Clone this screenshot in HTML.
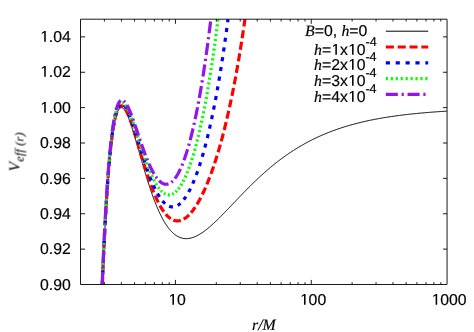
<!DOCTYPE html>
<html><head><meta charset="utf-8"><title>V_eff(r)</title><style>
html,body{margin:0;padding:0;background:#fff;}
body{width:474px;height:332px;position:relative;overflow:hidden;font-family:"Liberation Sans",sans-serif;font-size:15.8px;color:#000;text-rendering:geometricPrecision;-webkit-text-stroke:0.18px #000;}
.yl,.xl,.lg,.xt,.yt span{will-change:transform;}
.yl{position:absolute;right:403.2px;height:17px;line-height:17px;text-align:right;white-space:nowrap;}
.xl{position:absolute;top:292.2px;width:60px;text-align:center;height:17px;line-height:17px;}
.lg{position:absolute;right:106.5px;height:17px;line-height:17px;white-space:nowrap;text-align:right;}
.o{font-weight:normal;color:transparent;-webkit-text-stroke:0;position:relative;}
.o::before{content:"";position:absolute;left:0.02em;top:0.125em;width:0.5562em;height:0.688em;background:#000;clip-path:polygon(44.4% 100%,44.4% 13.4%,17.3% 29%,17.3% 15.5%,46.5% 0%,62% 0%,62% 100%);}
i{font-family:"Liberation Serif",serif;font-style:italic;}
sup{font-size:12.6px;vertical-align:baseline;position:relative;top:-8.9px;line-height:0;}
.xt{position:absolute;left:252.3px;top:316.7px;font-family:"Liberation Serif",serif;font-style:italic;white-space:nowrap;height:17px;line-height:17px;}
.yt{position:absolute;left:15.3px;top:152.0px;width:0;height:0;}
.yt span{position:absolute;white-space:nowrap;font-family:"Liberation Serif",serif;font-style:italic;transform:translate(-50%,-50%) rotate(-90deg);line-height:17px;}
.yt span{-webkit-text-stroke:0;}
.yt b{font-weight:normal;letter-spacing:0.15px;}
.yt sub{font-size:12.6px;vertical-align:baseline;position:relative;top:4px;line-height:0;}
</style></head><body>
<svg width="474" height="332" viewBox="0 0 474 332" style="position:absolute;left:0;top:0">
<g fill="none" stroke-linejoin="round">
<path d="M102.36,284.50L102.42,282.92L102.50,281.12L102.57,279.34L102.64,277.57L102.72,275.81L102.79,274.07L102.86,272.34L102.94,270.62L103.01,268.91L103.08,267.22L103.16,265.54L103.23,263.88L103.30,262.22L103.38,260.58L103.45,258.95L103.52,257.33L103.60,255.73L103.67,254.14L103.74,252.56L103.82,250.99L103.89,249.43L103.96,247.89L104.04,246.36L104.11,244.84L104.18,243.33L104.26,241.83L104.33,240.35L104.40,238.87L104.48,237.41L104.55,235.96L104.62,234.52L104.70,233.09L104.77,231.68L104.84,230.27L104.92,228.88L104.99,227.50L105.06,226.12L105.14,224.76L105.21,223.41L105.28,222.07L105.36,220.75L105.43,219.43L105.50,218.12L105.58,216.83L105.65,215.54L105.72,214.27L105.80,213.00L105.87,211.75L105.94,210.50L106.02,209.27L106.09,208.05L106.16,206.83L106.24,205.63L106.31,204.44L106.38,203.26L106.46,202.08L106.53,200.92L106.60,199.77L106.68,198.63L106.75,197.49L106.82,196.37L106.90,195.25L106.97,194.15L107.04,193.05L107.12,191.97L107.19,190.89L107.26,189.83L107.34,188.77L107.41,187.72L107.48,186.68L107.56,185.65L107.63,184.63L107.70,183.62L107.78,182.62L107.85,181.62L107.92,180.64L108.00,179.66L108.07,178.69L108.14,177.74L108.22,176.79L108.29,175.85L108.36,174.91L108.44,173.99L108.51,173.07L108.58,172.17L108.66,171.27L108.73,170.38L108.80,169.50L108.88,168.62L108.95,167.76L109.02,166.90L109.10,166.05L109.17,165.21L109.24,164.38L109.32,163.55L109.39,162.74L109.46,161.93L109.54,161.12L109.68,159.55L109.83,158.00L109.98,156.48L110.12,154.99L110.27,153.53L110.42,152.10L110.56,150.71L110.71,149.33L110.86,147.99L111.00,146.68L111.15,145.39L111.30,144.13L111.44,142.90L111.59,141.70L111.74,140.52L111.88,139.36L112.03,138.24L112.18,137.14L112.32,136.06L112.47,135.01L112.62,133.98L112.76,132.98L112.91,132.00L113.06,131.05L113.20,130.12L113.35,129.21L113.50,128.33L113.64,127.46L113.79,126.62L113.94,125.81L114.08,125.01L114.30,123.86L114.52,122.75L114.74,121.69L114.96,120.67L115.18,119.70L115.40,118.78L115.62,117.90L115.84,117.06L116.06,116.26L116.36,115.26L116.65,114.33L116.94,113.46L117.24,112.67L117.60,111.77L117.97,110.96L118.41,110.12L118.85,109.41L119.36,108.75L119.95,108.18L120.68,107.76L121.49,107.64L122.30,107.84L123.03,108.28L123.69,108.88L124.27,109.56L124.79,110.26L125.23,110.93L125.67,111.67L126.11,112.47L126.55,113.33L126.91,114.09L127.28,114.88L127.65,115.71L128.01,116.57L128.38,117.46L128.75,118.39L129.04,119.15L129.33,119.92L129.63,120.72L129.92,121.53L130.21,122.35L130.51,123.20L130.80,124.05L131.09,124.92L131.39,125.80L131.68,126.69L131.97,127.60L132.27,128.51L132.56,129.44L132.85,130.37L133.15,131.32L133.44,132.27L133.73,133.23L134.03,134.20L134.32,135.18L134.61,136.16L134.91,137.15L135.20,138.15L135.49,139.15L135.79,140.15L136.08,141.16L136.37,142.18L136.67,143.19L136.96,144.22L137.25,145.24L137.55,146.26L137.77,147.03L137.99,147.81L138.21,148.58L138.43,149.35L138.65,150.12L138.87,150.90L139.09,151.67L139.31,152.45L139.53,153.22L139.75,153.99L139.97,154.77L140.19,155.54L140.41,156.31L140.63,157.09L140.85,157.86L141.07,158.63L141.29,159.40L141.58,160.42L141.87,161.44L142.17,162.46L142.46,163.48L142.75,164.49L143.05,165.51L143.34,166.51L143.63,167.52L143.93,168.52L144.22,169.51L144.51,170.50L144.81,171.49L145.10,172.47L145.39,173.45L145.69,174.43L145.98,175.39L146.27,176.36L146.57,177.31L146.86,178.27L147.15,179.21L147.45,180.15L147.74,181.09L148.03,182.02L148.33,182.94L148.62,183.85L148.91,184.76L149.21,185.67L149.50,186.56L149.79,187.45L150.09,188.33L150.38,189.21L150.67,190.08L150.97,190.94L151.26,191.79L151.55,192.64L151.84,193.48L152.14,194.31L152.43,195.14L152.72,195.95L153.02,196.76L153.31,197.57L153.60,198.36L153.90,199.15L154.19,199.93L154.48,200.70L154.78,201.46L155.07,202.21L155.36,202.96L155.73,203.88L156.10,204.79L156.46,205.69L156.83,206.57L157.20,207.44L157.56,208.30L157.93,209.15L158.30,209.98L158.66,210.80L159.03,211.61L159.40,212.40L159.76,213.19L160.13,213.95L160.50,214.71L160.86,215.45L161.23,216.18L161.60,216.90L162.04,217.74L162.48,218.57L162.92,219.37L163.36,220.16L163.80,220.93L164.24,221.68L164.68,222.42L165.12,223.13L165.56,223.83L166.00,224.51L166.51,225.28L167.02,226.02L167.54,226.75L168.05,227.44L168.56,228.12L169.08,228.77L169.59,229.40L170.18,230.09L170.76,230.75L171.35,231.38L171.94,231.98L172.52,232.55L173.11,233.10L173.77,233.68L174.43,234.22L175.09,234.73L175.75,235.20L176.48,235.69L177.22,236.14L177.95,236.55L178.68,236.92L179.41,237.25L180.22,237.57L181.03,237.85L181.83,238.09L182.64,238.28L183.45,238.43L184.25,238.54L185.06,238.61L185.87,238.64L186.67,238.64L187.48,238.60L188.29,238.52L189.09,238.41L189.90,238.27L190.71,238.10L191.51,237.89L192.32,237.65L193.13,237.39L193.93,237.09L194.74,236.77L195.55,236.42L196.28,236.09L197.01,235.73L197.75,235.35L198.48,234.95L199.21,234.53L199.95,234.09L200.68,233.64L201.41,233.17L202.15,232.68L202.88,232.18L203.54,231.72L204.20,231.24L204.86,230.75L205.52,230.25L206.18,229.74L206.84,229.22L207.50,228.69L208.16,228.15L208.82,227.60L209.48,227.05L210.14,226.48L210.80,225.90L211.46,225.32L212.12,224.73L212.78,224.14L213.44,223.53L214.10,222.92L214.68,222.37L215.27,221.82L215.86,221.26L216.44,220.70L217.03,220.13L217.62,219.56L218.20,218.99L218.79,218.41L219.38,217.83L219.96,217.25L220.55,216.66L221.14,216.07L221.72,215.48L222.31,214.89L222.90,214.29L223.48,213.69L224.07,213.09L224.66,212.48L225.24,211.88L225.83,211.27L226.42,210.66L227.00,210.05L227.59,209.44L228.18,208.83L228.76,208.21L229.35,207.60L229.94,206.99L230.52,206.37L231.11,205.75L231.70,205.14L232.28,204.52L232.87,203.90L233.46,203.29L234.04,202.67L234.63,202.05L235.22,201.44L235.80,200.82L236.39,200.21L236.97,199.59L237.56,198.98L238.15,198.36L238.73,197.75L239.32,197.14L239.91,196.53L240.49,195.92L241.08,195.31L241.67,194.70L242.25,194.10L242.84,193.49L243.43,192.89L244.01,192.29L244.60,191.69L245.19,191.09L245.77,190.49L246.36,189.89L246.95,189.30L247.53,188.71L248.12,188.12L248.71,187.53L249.29,186.94L249.88,186.36L250.47,185.78L251.05,185.20L251.64,184.62L252.23,184.04L252.81,183.47L253.40,182.90L253.99,182.33L254.57,181.77L255.16,181.20L255.75,180.64L256.33,180.08L256.92,179.52L257.51,178.97L258.09,178.42L258.68,177.87L259.27,177.32L259.93,176.71L260.59,176.10L261.25,175.50L261.91,174.90L262.57,174.30L263.23,173.71L263.88,173.12L264.54,172.53L265.20,171.94L265.86,171.36L266.52,170.79L267.18,170.22L267.84,169.65L268.50,169.08L269.16,168.52L269.82,167.96L270.48,167.41L271.14,166.85L271.80,166.31L272.46,165.76L273.12,165.22L273.78,164.69L274.44,164.16L275.10,163.63L275.76,163.10L276.42,162.58L277.08,162.06L277.74,161.55L278.40,161.04L279.06,160.54L279.72,160.03L280.38,159.53L281.04,159.04L281.70,158.55L282.36,158.06L283.02,157.58L283.68,157.10L284.34,156.62L285.00,156.15L285.66,155.68L286.32,155.22L286.98,154.75L287.64,154.30L288.30,153.84L289.04,153.34L289.77,152.85L290.50,152.36L291.24,151.87L291.97,151.39L292.70,150.91L293.43,150.44L294.17,149.97L294.90,149.50L295.63,149.04L296.37,148.59L297.10,148.13L297.83,147.69L298.57,147.24L299.30,146.80L300.03,146.37L300.77,145.94L301.50,145.51L302.23,145.09L302.97,144.67L303.70,144.26L304.43,143.85L305.17,143.44L305.90,143.04L306.63,142.64L307.37,142.25L308.10,141.86L308.83,141.47L309.57,141.09L310.30,140.71L311.03,140.34L311.77,139.97L312.50,139.60L313.23,139.24L313.97,138.88L314.70,138.52L315.43,138.17L316.17,137.82L316.90,137.48L317.63,137.14L318.37,136.80L319.10,136.46L319.83,136.13L320.56,135.81L321.30,135.48L322.03,135.16L322.84,134.81L323.64,134.47L324.45,134.13L325.26,133.79L326.06,133.46L326.87,133.13L327.68,132.81L328.48,132.49L329.29,132.17L330.10,131.86L330.90,131.55L331.71,131.24L332.52,130.94L333.32,130.64L334.13,130.34L334.94,130.05L335.74,129.76L336.55,129.48L337.36,129.20L338.16,128.92L338.97,128.65L339.78,128.38L340.58,128.11L341.39,127.84L342.20,127.58L343.00,127.32L343.81,127.07L344.62,126.82L345.42,126.57L346.23,126.32L347.04,126.08L347.84,125.84L348.65,125.61L349.45,125.37L350.26,125.14L351.07,124.91L351.87,124.69L352.68,124.47L353.49,124.25L354.29,124.03L355.10,123.82L355.91,123.60L356.71,123.40L357.52,123.19L358.33,122.99L359.13,122.78L359.94,122.59L360.75,122.39L361.55,122.20L362.36,122.01L363.17,121.82L363.97,121.63L364.78,121.45L365.59,121.27L366.39,121.09L367.20,120.91L368.01,120.73L368.81,120.56L369.62,120.39L370.43,120.22L371.23,120.06L372.04,119.89L372.85,119.73L373.65,119.57L374.46,119.41L375.27,119.26L376.07,119.11L376.88,118.95L377.68,118.80L378.49,118.66L379.30,118.51L380.10,118.37L380.91,118.22L381.72,118.08L382.52,117.95L383.33,117.81L384.14,117.67L384.94,117.54L385.75,117.41L386.56,117.28L387.36,117.15L388.17,117.02L388.98,116.90L389.78,116.78L390.59,116.66L391.40,116.54L392.20,116.42L393.01,116.30L393.82,116.18L394.62,116.07L395.43,115.96L396.24,115.85L397.04,115.74L397.85,115.63L398.66,115.52L399.46,115.42L400.27,115.31L401.08,115.21L401.88,115.11L402.69,115.01L403.50,114.91L404.30,114.82L405.11,114.72L405.91,114.62L406.72,114.53L407.53,114.44L408.33,114.35L409.14,114.26L409.95,114.17L410.75,114.08L411.56,114.00L412.37,113.91L413.17,113.83L413.98,113.74L414.79,113.66L415.59,113.58L416.40,113.50L417.21,113.42L418.01,113.35L418.82,113.27L419.63,113.19L420.43,113.12L421.24,113.04L422.05,112.97L422.85,112.90L423.66,112.83L424.47,112.76L425.27,112.69L426.08,112.62L426.89,112.56L427.69,112.49L428.50,112.43L429.31,112.36L430.11,112.30L430.92,112.23L431.73,112.17L432.53,112.11L433.34,112.05L434.14,111.99L434.95,111.93L435.76,111.88L436.56,111.82L437.37,111.76L438.18,111.71L438.98,111.65L439.79,111.60L440.60,111.54L441.40,111.49L442.21,111.44L443.02,111.39L443.82,111.34L444.63,111.29L445.44,111.24L446.24,111.19L446.98,111.15" stroke="#000" stroke-width="1.0"/>
<path d="M102.32,284.50L102.42,281.99L102.50,280.19L102.57,278.41L102.64,276.64L102.65,276.42M102.81,272.72L102.86,271.40L102.94,269.68L103.01,267.97L103.08,266.27L103.16,264.59L103.16,264.51M103.32,260.83L103.38,259.62L103.45,257.99L103.52,256.37L103.60,254.76L103.67,253.17L103.69,252.68M103.87,248.95L103.96,246.91L104.04,245.37L104.11,243.85L104.18,242.34L104.26,240.87M104.45,237.04L104.55,234.96L104.62,233.52L104.70,232.09L104.77,230.67L104.84,229.26L104.86,229.01M105.06,225.21L105.14,223.74L105.21,222.39L105.28,221.05L105.36,219.72L105.43,218.40L105.50,217.12M105.71,213.45L105.80,211.96L105.87,210.70L105.94,209.46L106.02,208.22L106.09,206.99L106.16,205.78L106.19,205.28M106.43,201.52L106.53,199.85L106.60,198.69L106.68,197.55L106.75,196.41L106.82,195.29L106.90,194.17L106.94,193.48M107.19,189.79L107.26,188.73L107.34,187.67L107.41,186.61L107.48,185.57L107.56,184.54L107.63,183.52L107.70,182.50L107.76,181.70M108.05,177.86L108.14,176.60L108.22,175.65L108.29,174.70L108.36,173.77L108.44,172.84L108.51,171.92L108.58,171.01L108.66,170.11L108.68,169.83M108.99,166.08L109.10,164.88L109.17,164.03L109.24,163.20L109.32,162.37L109.39,161.55L109.46,160.74L109.54,159.93L109.61,159.13L109.72,157.98M110.08,154.26L110.20,153.04L110.34,151.59L110.49,150.17L110.64,148.77L110.78,147.41L110.90,146.32M111.33,142.56L111.44,141.62L111.59,140.41L111.74,139.22L111.88,138.06L112.03,136.93L112.18,135.82L112.32,134.74L112.35,134.57M112.88,130.87L113.06,129.69L113.20,128.75L113.35,127.84L113.50,126.95L113.64,126.08L113.79,125.23L113.94,124.40L114.08,123.60L114.21,122.90M114.94,119.33L115.18,118.24L115.40,117.30L115.62,116.40L115.84,115.55L116.06,114.74L116.28,113.97L116.58,113.01L116.87,112.11L117.01,111.71M118.46,108.38L118.92,107.62L119.44,106.94L120.02,106.37L120.76,105.93L121.56,105.78L122.37,105.95L123.10,106.36L123.70,106.87M125.64,109.44L126.11,110.25L126.55,111.07L126.91,111.80L127.28,112.56L127.65,113.36L128.01,114.19L128.38,115.05L128.75,115.94L128.91,116.35M130.18,119.68L130.51,120.57L130.80,121.40L131.09,122.24L131.39,123.09L131.68,123.95L131.97,124.82L132.27,125.71L132.56,126.60L132.71,127.05M133.82,130.53L134.10,131.44L134.39,132.38L134.69,133.33L134.98,134.29L135.27,135.25L135.57,136.22L135.86,137.19L136.12,138.04M137.15,141.51L137.40,142.34L137.69,143.33L137.99,144.32L138.28,145.31L138.57,146.30L138.87,147.29L139.16,148.28L139.37,149.00M140.42,152.54L140.70,153.47L140.99,154.46L141.29,155.44L141.58,156.42L141.87,157.40L142.17,158.37L142.46,159.34L142.66,160.00M143.73,163.51L144.00,164.38L144.29,165.32L144.59,166.26L144.88,167.20L145.17,168.13L145.47,169.05L145.76,169.97L146.05,170.89L146.07,170.96M147.21,174.43L147.52,175.37L147.81,176.24L148.11,177.11L148.40,177.98L148.69,178.83L148.99,179.68L149.28,180.52L149.57,181.36L149.71,181.74M150.91,185.08L151.26,186.01L151.55,186.79L151.84,187.57L152.14,188.33L152.43,189.09L152.72,189.84L153.09,190.77L153.46,191.68L153.73,192.34M155.11,195.62L155.44,196.37L155.80,197.20L156.17,198.01L156.54,198.81L156.90,199.59L157.27,200.36L157.64,201.11L158.00,201.85L158.33,202.51M159.96,205.56L160.42,206.39L160.86,207.14L161.30,207.88L161.74,208.59L162.18,209.29L162.62,209.96L163.14,210.72L163.65,211.45L163.91,211.81M165.84,214.25L166.44,214.93L167.02,215.56L167.61,216.15L168.20,216.71L168.86,217.29L169.52,217.83L170.18,218.32L170.75,218.72M173.39,220.09L174.21,220.38L175.02,220.60L175.82,220.75L176.63,220.85L177.44,220.88L178.24,220.85L179.05,220.76L179.85,220.61L180.66,220.40L180.84,220.35M183.68,219.11L184.40,218.68L185.13,218.20L185.79,217.73L186.45,217.22L187.11,216.68L187.77,216.10L188.36,215.55L188.95,214.98L189.02,214.90M191.08,212.66L191.66,211.96L192.17,211.32L192.69,210.66L193.20,209.98L193.71,209.28L194.23,208.56L194.74,207.82L195.17,207.19M197.00,204.31L197.45,203.57L197.89,202.82L198.33,202.06L198.77,201.29L199.21,200.50L199.65,199.70L200.09,198.88L200.53,198.05L200.68,197.76M202.29,194.56L202.66,193.81L203.03,193.05L203.39,192.27L203.76,191.48L204.13,190.69L204.49,189.88L204.86,189.06L205.23,188.24L205.49,187.64M206.85,184.44L207.21,183.58L207.57,182.69L207.94,181.78L208.30,180.86L208.67,179.94L208.96,179.19L209.26,178.43L209.55,177.67L209.69,177.31M210.97,173.88L211.31,172.94L211.60,172.12L211.90,171.30L212.19,170.48L212.48,169.64L212.78,168.80L213.07,167.95L213.36,167.09L213.54,166.58M214.67,163.18L214.98,162.25L215.27,161.35L215.56,160.43L215.86,159.51L216.15,158.59L216.44,157.65L216.74,156.71L217.03,155.76L217.05,155.69M218.09,152.27L218.35,151.38L218.64,150.39L218.94,149.38L219.23,148.37L219.52,147.35L219.74,146.58L219.96,145.81L220.18,145.03L220.29,144.63M221.24,141.22L221.50,140.25L221.72,139.44L221.94,138.62L222.16,137.80L222.38,136.97L222.60,136.14L222.82,135.30L223.04,134.46L223.26,133.61L223.29,133.50M224.19,129.99L224.44,129.01L224.66,128.13L224.88,127.24L225.10,126.35L225.32,125.46L225.54,124.56L225.76,123.65L225.98,122.74L226.11,122.20M226.94,118.66L227.15,117.78L227.37,116.83L227.59,115.88L227.81,114.92L228.03,113.96L228.25,112.99L228.47,112.01L228.69,111.03L228.72,110.89M229.52,107.27L229.72,106.37L229.94,105.36L230.16,104.34L230.38,103.31L230.60,102.28L230.82,101.24L231.04,100.19L231.19,99.47M231.94,95.84L232.14,94.86L232.36,93.78L232.58,92.69L232.80,91.59L233.02,90.49L233.24,89.38L233.46,88.26L233.49,88.09M234.21,84.36L234.41,83.34L234.63,82.18L234.85,81.02L235.07,79.85L235.29,78.68L235.44,77.89L235.58,77.10L235.70,76.46M236.35,72.89L236.53,71.88L236.68,71.07L236.83,70.25L236.97,69.43L237.12,68.60L237.27,67.77L237.41,66.94L237.56,66.11L237.71,65.27L237.77,64.92M238.39,61.31L238.59,60.16L238.73,59.30L238.88,58.43L239.03,57.56L239.17,56.69L239.32,55.81L239.47,54.93L239.61,54.05L239.72,53.38M240.32,49.76L240.49,48.66L240.64,47.75L240.79,46.84L240.93,45.92L241.08,45.00L241.23,44.07L241.37,43.14L241.52,42.21L241.59,41.79M242.15,38.13L242.33,37.01L242.47,36.05L242.62,35.08L242.77,34.12L242.91,33.15L243.06,32.17L243.21,31.19L243.35,30.21M243.90,26.49L244.09,25.23L244.23,24.22L244.38,23.21L244.53,22.19L244.67,21.17L244.82,20.14L244.95,19.20" stroke="#ff0000" stroke-width="3.2"/>
<path d="M102.29,284.50L102.35,282.88L102.42,281.07L102.45,280.34M102.69,274.57L102.79,272.19L102.86,270.45L102.86,270.45M103.11,264.72L103.16,263.64L103.23,261.97L103.29,260.52M103.55,254.74L103.60,253.80L103.67,252.20L103.74,250.66M104.01,244.87L104.11,242.87L104.18,241.35L104.22,240.68M104.50,234.94L104.55,233.96L104.62,232.52L104.70,231.09L104.71,230.80M105.01,225.07L105.06,224.09L105.14,222.72L105.21,221.37L105.24,220.90M105.56,215.13L105.65,213.46L105.72,212.18L105.79,210.95M106.13,205.22L106.24,203.51L106.31,202.31L106.38,201.13L106.39,201.01M106.75,195.27L106.82,194.20L106.90,193.08L106.97,191.97L107.03,191.13M107.42,185.42L107.48,184.46L107.56,183.43L107.63,182.40L107.70,181.38L107.71,181.23M108.14,175.50L108.22,174.51L108.29,173.56L108.36,172.63L108.44,171.70L108.46,171.40M108.93,165.69L109.02,164.56L109.10,163.70L109.17,162.85L109.24,162.02L109.28,161.56M109.81,155.75L109.90,154.82L110.05,153.30L110.20,151.81L110.21,151.67M110.80,145.96L110.93,144.82L111.08,143.51L111.22,142.22L111.26,141.86M111.96,136.19L112.10,135.06L112.25,133.96L112.40,132.88L112.51,132.07M113.35,126.46L113.50,125.57L113.64,124.69L113.79,123.83L113.94,123.00L114.06,122.32M115.18,116.76L115.40,115.82L115.62,114.91L115.84,114.05L116.06,113.22L116.17,112.82M118.01,107.62L118.41,106.81L118.85,106.04L119.36,105.31L119.95,104.67L120.16,104.49M124.39,105.56L124.93,106.24L125.45,106.97L125.89,107.67L126.33,108.42L126.46,108.66M128.75,113.48L129.11,114.37L129.48,115.28L129.77,116.02L130.07,116.78L130.20,117.14M132.03,122.20L132.34,123.12L132.63,123.98L132.93,124.86L133.22,125.74L133.31,126.02M135.02,131.30L135.27,132.11L135.57,133.04L135.86,133.97L136.15,134.91L136.23,135.16M137.87,140.43L138.13,141.30L138.43,142.25L138.72,143.20L139.01,144.16L139.05,144.29M140.71,149.63L140.99,150.54L141.29,151.48L141.58,152.42L141.87,153.35L141.91,153.46M143.59,158.72L143.85,159.54L144.15,160.43L144.44,161.33L144.73,162.22L144.85,162.59M146.61,167.77L146.93,168.69L147.23,169.52L147.52,170.35L147.81,171.17L147.94,171.53M149.86,176.67L150.16,177.46L150.45,178.21L150.82,179.13L151.18,180.04L151.30,180.33M153.41,185.29L153.75,186.04L154.12,186.84L154.48,187.63L154.85,188.40L155.09,188.89M157.53,193.56L157.93,194.26L158.37,195.01L158.81,195.74L159.25,196.45L159.56,196.93M162.52,200.97L163.06,201.59L163.65,202.23L164.24,202.83L164.82,203.38L165.15,203.67M169.11,206.20L169.88,206.47L170.69,206.69L171.50,206.82L172.30,206.88L172.92,206.87M177.66,205.36L178.39,204.90L179.05,204.43L179.71,203.91L180.37,203.34L180.55,203.18M183.76,199.65L184.25,199.00L184.77,198.30L185.28,197.58L185.79,196.82L185.91,196.64M188.66,192.05L189.09,191.24L189.53,190.41L189.90,189.70L190.27,188.97L190.44,188.62M192.72,183.72L193.05,182.94L193.42,182.09L193.79,181.21L194.15,180.32L194.21,180.17M196.23,174.99L196.57,174.07L196.87,173.27L197.16,172.46L197.45,171.63L197.57,171.29M199.37,166.01L199.65,165.13L199.95,164.22L200.24,163.29L200.53,162.36L200.58,162.21M202.22,156.81L202.51,155.80L202.81,154.78L203.10,153.76L203.32,152.98L203.34,152.90M204.82,147.53L205.08,146.55L205.30,145.72L205.52,144.88L205.74,144.03L205.87,143.53M207.24,138.08L207.50,137.04L207.72,136.14L207.94,135.23L208.16,134.31L208.20,134.13M209.48,128.68L209.70,127.71L209.92,126.74L210.14,125.76L210.36,124.77L210.39,124.65M211.58,119.18L211.75,118.37L211.97,117.33L212.19,116.29L212.41,115.23L212.43,115.16M213.57,109.59L213.73,108.77L213.95,107.66L214.17,106.55L214.37,105.55M215.43,100.05L215.64,98.94L215.86,97.77L216.08,96.59L216.20,95.91M217.22,90.34L217.40,89.34L217.54,88.51L217.69,87.68L217.84,86.85L217.92,86.37M218.90,80.70L219.08,79.63L219.23,78.76L219.38,77.89L219.52,77.02L219.60,76.57M220.52,70.97L220.70,69.87L220.84,68.96L220.99,68.04L221.14,67.12L221.17,66.91M222.05,61.28L222.24,60.09L222.38,59.14L222.53,58.18L222.68,57.21L222.69,57.14M223.53,51.52L223.70,50.35L223.85,49.35L224.00,48.35L224.13,47.40M224.94,41.76L225.10,40.68L225.24,39.64L225.39,38.59L225.51,37.70M226.30,31.98L226.42,31.13L226.56,30.05L226.71,28.96L226.86,27.87M227.60,22.21L227.74,21.20L227.88,20.07L228.00,19.20" stroke="#0000ff" stroke-width="3.2"/>
<path d="M102.25,284.50L102.33,282.41M102.45,279.57L102.50,278.33L102.53,277.45M102.65,274.66L102.72,273.00L102.74,272.56M102.85,269.75L102.94,267.79L102.95,267.56M103.07,264.82L103.16,262.69L103.16,262.67M103.28,259.90L103.37,257.77M103.50,255.01L103.60,252.85M103.72,250.06L103.82,248.07L103.83,247.90M103.95,245.19L104.04,243.41L104.06,242.94M104.19,240.17L104.26,238.86L104.30,238.04M104.43,235.28L104.48,234.42L104.54,233.17M104.68,230.43L104.77,228.66L104.80,228.17M104.94,225.46L104.99,224.45L105.05,223.30M105.20,220.47L105.28,219.00L105.32,218.39M105.47,215.62L105.58,213.72L105.59,213.47M105.75,210.66L105.87,208.61L105.87,208.57M106.03,205.82L106.09,204.88L106.16,203.66L106.17,203.58M106.33,200.92L106.38,200.06L106.46,198.88L106.47,198.75M106.64,195.93L106.75,194.25L106.78,193.79M106.96,191.00L107.04,189.78L107.10,188.88M107.30,186.07L107.41,184.40L107.45,183.89M107.64,181.19L107.70,180.27L107.78,179.26L107.79,179.09M108.00,176.27L108.07,175.30L108.14,174.33L108.16,174.13M108.37,171.44L108.44,170.55L108.51,169.62L108.54,169.27M108.77,166.45L108.88,165.13L108.94,164.38M109.18,161.56L109.32,160.00L109.37,159.43M109.61,156.74L109.76,155.16L109.81,154.59M110.08,151.82L110.20,150.59L110.29,149.64M110.57,146.96L110.71,145.60L110.80,144.73M111.10,142.07L111.22,140.95L111.35,139.86M111.67,137.18L111.81,136.05L111.94,135.05M112.29,132.34L112.47,131.02L112.59,130.18M112.98,127.46L113.13,126.50L113.28,125.56L113.32,125.30M113.76,122.63L113.94,121.60L114.08,120.78L114.13,120.54M114.65,117.83L114.82,117.00L115.04,115.96L115.08,115.76M115.68,113.17L115.92,112.26L116.14,111.44L116.22,111.14M117.00,108.60L117.31,107.71L117.60,106.94L117.72,106.65M118.89,104.28L119.36,103.59L119.95,102.91L120.00,102.86M122.40,102.11L123.17,102.45L123.83,102.94L124.06,103.14M125.56,104.97L126.03,105.70L126.47,106.44L126.66,106.77M127.80,108.98L128.16,109.73L128.53,110.53L128.69,110.90M129.71,113.32L130.07,114.20L130.36,114.95L130.47,115.22M131.38,117.63L131.68,118.46L131.97,119.28L132.09,119.61M132.96,122.07L133.22,122.83L133.51,123.69L133.62,123.99M134.46,126.50L134.76,127.40L135.05,128.29L135.12,128.49M135.94,131.01L136.23,131.88L136.52,132.79L136.60,133.05M137.42,135.56L137.69,136.42L137.99,137.34L138.05,137.54M138.86,140.07L139.16,140.98L139.45,141.89L139.52,142.10M140.33,144.59L140.63,145.51L140.92,146.40L140.96,146.54M141.81,149.10L142.09,149.96L142.39,150.84L142.47,151.08M143.31,153.59L143.63,154.53L143.93,155.38L143.98,155.53M144.85,158.03L145.17,158.95L145.47,159.77L145.53,159.95M146.42,162.41L146.71,163.19L147.01,163.97L147.16,164.37M148.07,166.76L148.40,167.60L148.77,168.52L148.82,168.66M149.79,171.03L150.16,171.91L150.53,172.77L150.60,172.95M151.62,175.25L151.99,176.06L152.36,176.84L152.50,177.15M153.62,179.42L154.04,180.25L154.48,181.09L154.56,181.23M155.83,183.49L156.24,184.20L156.68,184.92L156.83,185.15M158.21,187.23L158.74,187.95L159.25,188.62L159.34,188.73M160.94,190.61L161.52,191.20L162.11,191.76L162.18,191.82M163.95,193.21L164.68,193.66L165.40,194.04M167.77,194.79L168.56,194.88L169.37,194.88L169.90,194.83M172.11,194.23L172.89,193.87L173.62,193.45L173.75,193.37M175.54,192.01L176.19,191.41L176.78,190.82L176.88,190.71M178.37,188.98L178.90,188.30L179.41,187.59L179.49,187.49M180.82,185.50L181.25,184.80L181.69,184.06L181.82,183.84M183.08,181.56L183.52,180.71L183.89,179.98L184.00,179.76M185.09,177.48L185.43,176.73L185.79,175.91L185.93,175.60M186.94,173.21L187.26,172.43L187.63,171.51L187.71,171.31M188.65,168.86L188.95,168.06L189.24,167.26L189.37,166.89M190.23,164.45L190.56,163.50L190.85,162.63L190.89,162.51M191.73,159.94L192.03,159.03L192.32,158.09L192.36,157.98M193.14,155.42L193.42,154.49L193.71,153.50L193.74,153.39M194.49,150.79L194.74,149.92L194.96,149.13L195.06,148.77M195.75,146.26L195.99,145.36L196.21,144.54L196.31,144.12M196.97,141.59L197.23,140.57L197.45,139.70L197.51,139.48M198.15,136.90L198.41,135.83L198.63,134.92L198.65,134.82M199.28,132.16L199.51,131.19L199.73,130.24L199.75,130.13M200.35,127.48L200.53,126.68L200.75,125.69L200.81,125.42M201.39,122.76L201.63,121.65L201.84,120.68M202.40,118.00L202.59,117.12L202.81,116.05L202.82,115.96M203.38,113.25L203.54,112.44L203.76,111.33L203.79,111.16M204.31,108.51L204.49,107.59L204.70,106.49M205.23,103.75L205.45,102.58L205.62,101.65M206.12,98.96L206.33,97.81L206.47,97.00L206.51,96.81M206.98,94.15L207.13,93.31L207.28,92.47L207.35,92.07M207.82,89.34L208.01,88.25L208.16,87.39L208.18,87.24M208.64,84.52L208.82,83.48L208.96,82.60L208.99,82.46M209.44,79.71L209.62,78.58L209.77,77.68L209.79,77.58M210.21,74.94L210.36,74.01L210.50,73.09L210.56,72.74M210.98,70.07L211.16,68.86L211.31,67.92M211.72,65.21L211.90,64.05L212.04,63.12M212.44,60.43L212.56,59.63L212.70,58.63L212.75,58.34M213.14,55.63L213.29,54.60L213.44,53.57L213.46,53.44M213.83,50.79L213.95,49.96L214.10,48.92L214.15,48.56M214.53,45.83L214.68,44.70L214.81,43.81M215.19,41.03L215.34,39.86L215.47,38.93M215.84,36.13L216.00,34.91L216.12,34.02M216.47,31.32L216.59,30.42L216.74,29.29L216.74,29.24M217.10,26.43L217.25,25.27L217.37,24.32M217.71,21.65L217.84,20.60L217.98,19.42L217.98,19.42" stroke="#00ff00" stroke-width="3.2"/>
<path d="M102.21,284.50L102.28,282.86L102.35,281.03L102.42,279.21L102.50,277.40L102.57,275.61L102.64,273.83L102.70,272.41M102.86,268.57L102.94,266.84L102.96,266.36M103.12,262.60L103.16,261.74L103.23,260.06L103.30,258.40L103.38,256.75L103.45,255.11L103.52,253.48L103.60,251.86L103.66,250.44M103.84,246.65L103.89,245.53L103.94,244.49M104.12,240.68L104.18,239.38L104.26,237.88L104.33,236.38L104.40,234.90L104.48,233.43L104.55,231.96L104.62,230.52L104.70,229.08L104.72,228.56M104.92,224.75L104.99,223.44L105.03,222.64M105.24,218.78L105.28,217.97L105.36,216.64L105.43,215.31L105.50,213.99L105.58,212.68L105.65,211.39L105.72,210.10L105.80,208.83L105.87,207.56L105.92,206.70M106.15,202.89L106.24,201.39L106.28,200.73M106.51,197.01L106.60,195.47L106.68,194.32L106.75,193.17L106.82,192.04L106.90,190.91L106.97,189.80L107.04,188.69L107.12,187.59L107.19,186.51L107.26,185.43L107.30,184.86M107.56,181.09L107.63,180.17L107.70,179.15L107.73,178.84M108.00,175.13L108.07,174.17L108.14,173.20L108.22,172.23L108.29,171.28L108.36,170.34L108.44,169.40L108.51,168.47L108.58,167.55L108.66,166.64L108.73,165.74L108.80,164.85L108.88,163.96L108.95,163.08L108.96,162.95M109.28,159.22L109.39,157.99L109.46,157.16L109.48,157.02M109.81,153.33L109.90,152.40L110.05,150.87L110.20,149.37L110.34,147.90L110.49,146.46L110.64,145.05L110.78,143.66L110.93,142.31L111.05,141.20M111.48,137.50L111.59,136.55L111.74,135.34L111.74,135.32M112.21,131.59L112.32,130.78L112.47,129.70L112.62,128.64L112.76,127.61L112.91,126.60L113.06,125.62L113.20,124.66L113.35,123.72L113.50,122.81L113.64,121.91L113.79,121.04L113.94,120.20L114.04,119.63M114.72,116.03L114.89,115.20L115.11,114.16L115.18,113.85M116.04,110.28L116.28,109.38L116.58,108.36L116.87,107.42L117.16,106.54L117.46,105.72L117.75,104.97L118.12,104.11L118.48,103.35L118.92,102.55L119.36,101.88L119.88,101.24L120.54,100.64L120.79,100.47M123.88,100.94L124.49,101.51L125.08,102.17L125.08,102.17M127.01,105.11L127.43,105.88L127.87,106.74L128.23,107.48L128.60,108.26L128.97,109.06L129.33,109.89L129.70,110.75L130.07,111.63L130.43,112.52L130.80,113.44L131.09,114.19L131.39,114.95L131.62,115.55M132.85,118.90L133.15,119.72L133.44,120.54L133.56,120.88M134.77,124.36L135.05,125.17L135.35,126.03L135.64,126.89L135.93,127.75L136.23,128.62L136.52,129.49L136.81,130.36L137.11,131.23L137.40,132.10L137.69,132.97L137.99,133.85L138.28,134.72L138.51,135.42M139.65,138.78L139.97,139.71L140.26,140.57L140.36,140.86M141.53,144.28L141.80,145.04L142.09,145.88L142.39,146.71L142.68,147.54L142.97,148.37L143.27,149.18L143.56,150.00L143.85,150.80L144.15,151.61L144.44,152.40L144.73,153.19L145.03,153.97L145.32,154.74L145.50,155.22M146.78,158.50L147.15,159.41L147.52,160.31L147.57,160.43M148.96,163.71L149.35,164.59L149.72,165.40L150.09,166.20L150.45,166.99L150.82,167.75L151.18,168.51L151.55,169.24L151.92,169.97L152.36,170.81L152.80,171.63L153.24,172.43L153.68,173.20L154.05,173.84M155.87,176.69L156.39,177.42L156.90,178.11L157.01,178.24M159.14,180.70L159.76,181.29L160.42,181.87L161.08,182.38L161.82,182.87L162.55,183.29L163.28,183.64L164.09,183.93L164.90,184.12L165.70,184.22L166.51,184.22L167.32,184.13L168.12,183.94L168.49,183.83M171.38,182.20L172.01,181.68L172.67,181.07L172.74,181.00M174.84,178.60L175.38,177.88L175.90,177.15L176.41,176.38L176.85,175.68L177.29,174.96L177.73,174.21L178.17,173.42L178.61,172.61L179.05,171.77L179.41,171.04L179.78,170.30L180.15,169.53L180.45,168.88M181.87,165.64L182.20,164.84L182.57,163.93L182.67,163.68M183.94,160.33L184.25,159.47L184.55,158.65L184.84,157.81L185.13,156.96L185.43,156.09L185.72,155.22L186.01,154.32L186.31,153.41L186.60,152.49L186.89,151.56L187.19,150.61L187.48,149.64L187.61,149.20M188.63,145.70L188.87,144.86L189.09,144.07L189.21,143.65M190.17,140.09L190.41,139.18L190.63,138.34L190.85,137.48L191.07,136.62L191.29,135.75L191.51,134.87L191.73,133.98L191.95,133.09L192.17,132.18L192.39,131.27L192.61,130.35L192.83,129.42L193.05,128.48L193.06,128.46M193.89,124.83L194.08,123.97L194.30,122.98L194.34,122.79M195.14,119.13L195.33,118.23L195.55,117.19L195.77,116.14L195.99,115.08L196.21,114.01L196.43,112.93L196.65,111.84L196.87,110.74L197.09,109.63L197.31,108.51L197.53,107.39L197.53,107.35M198.23,103.72L198.41,102.78L198.63,101.60L198.63,101.57M199.29,97.98L199.51,96.80L199.65,95.98L199.80,95.16L199.95,94.34L200.09,93.51L200.24,92.67L200.39,91.83L200.53,90.99L200.68,90.14L200.83,89.29L200.97,88.43L201.12,87.57L201.27,86.71L201.37,86.08M201.99,82.39L202.15,81.41L202.29,80.51L202.33,80.26M202.93,76.55L203.10,75.48L203.25,74.55L203.39,73.62L203.54,72.68L203.69,71.73L203.83,70.78L203.98,69.83L204.13,68.87L204.27,67.91L204.42,66.94L204.57,65.96L204.71,64.98L204.77,64.57M205.31,60.93L205.45,60.01L205.59,59.00L205.63,58.76M206.16,55.02L206.33,53.87L206.47,52.83L206.62,51.78L206.77,50.73L206.91,49.67L207.06,48.61L207.21,47.54L207.35,46.47L207.50,45.39L207.64,44.31L207.79,43.22L207.81,43.08M208.31,39.31L208.45,38.25L208.60,37.15M209.08,33.43L209.18,32.60L209.33,31.45L209.48,30.30L209.62,29.14L209.77,27.97L209.92,26.80L210.06,25.63L210.21,24.44L210.36,23.26L210.50,22.06L210.58,21.43" stroke="#9414ec" stroke-width="3.2"/>
</g>
<path d="M80.50,19.20 H447.05 V284.50 H80.50 Z M80.50,249.13 h4.6 M447.05,249.13 h-4.1 M80.50,213.75 h4.6 M447.05,213.75 h-4.1 M80.50,178.38 h4.6 M447.05,178.38 h-4.1 M80.50,143.01 h4.6 M447.05,143.01 h-4.1 M80.50,107.63 h4.6 M447.05,107.63 h-4.1 M80.50,72.26 h4.6 M447.05,72.26 h-4.1 M80.50,36.89 h4.6 M447.05,36.89 h-4.1 M104.42,284.50 v-2.30 M104.42,19.20 v2.30 M121.38,284.50 v-2.30 M121.38,19.20 v2.30 M134.54,284.50 v-2.30 M134.54,19.20 v2.30 M145.30,284.50 v-2.30 M145.30,19.20 v2.30 M154.39,284.50 v-2.30 M154.39,19.20 v2.30 M162.27,284.50 v-2.30 M162.27,19.20 v2.30 M169.21,284.50 v-2.30 M169.21,19.20 v2.30 M175.43,284.50 v-4.60 M175.43,19.20 v4.60 M216.31,284.50 v-2.30 M216.31,19.20 v2.30 M240.23,284.50 v-2.30 M240.23,19.20 v2.30 M257.19,284.50 v-2.30 M257.19,19.20 v2.30 M270.36,284.50 v-2.30 M270.36,19.20 v2.30 M281.11,284.50 v-2.30 M281.11,19.20 v2.30 M290.20,284.50 v-2.30 M290.20,19.20 v2.30 M298.08,284.50 v-2.30 M298.08,19.20 v2.30 M305.02,284.50 v-2.30 M305.02,19.20 v2.30 M311.24,284.50 v-4.60 M311.24,19.20 v4.60 M352.12,284.50 v-2.30 M352.12,19.20 v2.30 M376.04,284.50 v-2.30 M376.04,19.20 v2.30 M393.01,284.50 v-2.30 M393.01,19.20 v2.30 M406.17,284.50 v-2.30 M406.17,19.20 v2.30 M416.92,284.50 v-2.30 M416.92,19.20 v2.30 M426.01,284.50 v-2.30 M426.01,19.20 v2.30 M433.89,284.50 v-2.30 M433.89,19.20 v2.30 M440.84,284.50 v-2.30 M440.84,19.20 v2.30" fill="none" stroke="#000" stroke-width="0.9"/>
<path d="M385.8,31.20 H428.2" stroke="#000" stroke-width="1.0" fill="none"/>
<path d="M385.8,47.00 H428.2" stroke="#ff0000" stroke-width="3.2" stroke-dasharray="8.10,3.75" fill="none"/>
<path d="M385.8,62.80 H428.2" stroke="#0000ff" stroke-width="3.2" stroke-dasharray="4.15,5.73" fill="none"/>
<path d="M385.8,78.60 H428.2" stroke="#00ff00" stroke-width="3.2" stroke-dasharray="2.18,2.76" fill="none"/>
<path d="M385.8,94.40 H428.2" stroke="#9414ec" stroke-width="3.2" stroke-dasharray="12.05,3.75,2.18,3.75" fill="none"/>
</svg>
<div class="yl" style="top:276.70px">0.90</div>
<div class="yl" style="top:241.33px">0.92</div>
<div class="yl" style="top:205.95px">0.94</div>
<div class="yl" style="top:170.58px">0.96</div>
<div class="yl" style="top:135.21px">0.98</div>
<div class="yl" style="top:99.83px"><b class="o">1</b>.00</div>
<div class="yl" style="top:64.46px"><b class="o">1</b>.02</div>
<div class="yl" style="top:29.09px"><b class="o">1</b>.04</div>
<div class="xl" style="left:147.33px"><b class="o">1</b>0</div>
<div class="xl" style="left:283.14px"><b class="o">1</b>00</div>
<div class="xl" style="left:418.95px"><b class="o">1</b>000</div>
<div class="lg" style="top:23.1px"><i>B</i>=0, <i>h</i>=0</div>
<div class="lg" style="top:41.7px;right:97.5px"><i>h</i>=<b class="o">1</b>x<b class="o">1</b>0<sup>-4</sup></div>
<div class="lg" style="top:57.4px;right:97.5px"><i>h</i>=2x<b class="o">1</b>0<sup>-4</sup></div>
<div class="lg" style="top:73.1px;right:97.5px"><i>h</i>=3x<b class="o">1</b>0<sup>-4</sup></div>
<div class="lg" style="top:88.8px;right:97.5px"><i>h</i>=4x<b class="o">1</b>0<sup>-4</sup></div>
<div class="xt">r/M</div>
<div class="yt"><span>V<sub><b>eff</b> (r)</sub></span></div>
</body></html>
